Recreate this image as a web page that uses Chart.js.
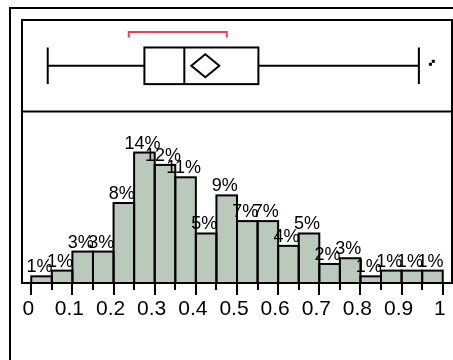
<!DOCTYPE html>
<html>
<head>
<meta charset="utf-8">
<script src="https://cdn.jsdelivr.net/npm/chart.js@4/dist/chart.umd.min.js"></script>
<style>
  html, body { margin: 0; padding: 0; background: #fff; overflow: hidden; }
  #wrap { position: relative; width: 453px; height: 360px; overflow: hidden; }
  #outer { position: absolute; left: 9px; top: 7px; width: 470px; height: 380px; border: 2px solid #000; box-sizing: border-box; }
  canvas { position: absolute; left: 0; top: 0; }
</style>
</head>
<body>
<div id="wrap">
  <div id="outer"></div>
  <canvas id="c" width="453" height="360"></canvas>
</div>
<script>
// Histogram bins (edges) and percentage of observations in each bin
const binEdges = [0, 0.05, 0.1, 0.15, 0.2, 0.25, 0.3, 0.35, 0.4, 0.45, 0.5,
                  0.55, 0.6, 0.65, 0.7, 0.75, 0.8, 0.85, 0.9, 0.95, 1];
const percents = [0.7, 1.3, 3.3, 3.3, 8.4, 13.7, 12.4, 11.1, 5.2, 9.2,
                  6.5, 6.5, 3.9, 5.2, 2.0, 2.6, 0.7, 1.3, 1.3, 1.3];

// Axis ticks
const tickValues = [0, 0.1, 0.2, 0.3, 0.4, 0.5, 0.6, 0.7, 0.8, 0.9, 1];
const tickLabels = ['0', '0.1', '0.2', '0.3', '0.4', '0.5', '0.6', '0.7', '0.8', '0.9', '1'];
const minorTickValues = [0.05, 0.15, 0.25, 0.35, 0.45, 0.55, 0.65, 0.75, 0.85, 0.95];

// Box plot summary
const whiskerLow = 0.04;
const q1 = 0.275;
const median = 0.372;
const mean = 0.423;
const q3 = 0.552;
const whiskerHigh = 0.942;
const outliers = [0.970, 0.977];
const shortestHalf = [0.237, 0.475];

const FONT = "'Liberation Sans', Arial, sans-serif";
const BAR_FILL = '#bac9bb';
const BRACKET_RED = '#e8405a';

const barData = percents.map((p, i) => ({ x: (binEdges[i] + binEdges[i + 1]) / 2, y: p }));

// Outline every bar and print its rounded percentage above it
const barDecor = {
  id: 'barDecor',
  afterDatasetsDraw(chart) {
    const ctx = chart.ctx;
    const meta = chart.getDatasetMeta(0);
    ctx.save();
    ctx.strokeStyle = '#000';
    ctx.lineWidth = 2;
    meta.data.forEach(el => {
      const p = el.getProps(['x', 'y', 'base', 'width'], true);
      ctx.strokeRect(p.x - p.width / 2, p.y, p.width, p.base - p.y);
    });
    ctx.fillStyle = '#000';
    ctx.font = '18px ' + FONT;
    ctx.textAlign = 'center';
    ctx.textBaseline = 'alphabetic';
    meta.data.forEach((el, i) => {
      const p = el.getProps(['x', 'y'], true);
      ctx.fillText(Math.round(percents[i]) + '%', p.x - 2, p.y - 4);
    });
    ctx.restore();
  }
};

// Panel frame, divider, minor ticks and the box plot in the upper panel
const panelDecor = {
  id: 'panelDecor',
  afterDraw(chart) {
    const ctx = chart.ctx;
    const { x, yb } = chart.scales;
    const a = chart.chartArea;
    const px = v => x.getPixelForValue(v);
    ctx.save();
    ctx.strokeStyle = '#000';
    ctx.lineWidth = 2;
    ctx.lineCap = 'butt';

    // frame + divider
    ctx.strokeRect(a.left, a.top, a.right - a.left, a.bottom - a.top);
    ctx.beginPath();
    ctx.moveTo(a.left, yb.bottom);
    ctx.lineTo(a.right, yb.bottom);
    ctx.stroke();

    // minor ticks
    ctx.beginPath();
    minorTickValues.forEach(v => {
      const xp = Math.round(px(v));
      ctx.moveTo(xp, a.bottom);
      ctx.lineTo(xp, a.bottom + 7);
    });
    ctx.stroke();

    // box plot
    const cy = yb.getPixelForValue(0.5);
    const bt = yb.getPixelForValue(0.7);
    const bb = yb.getPixelForValue(0.3);
    ctx.beginPath();
    ctx.moveTo(px(whiskerLow), cy); ctx.lineTo(px(q1), cy);
    ctx.moveTo(px(q3), cy); ctx.lineTo(px(whiskerHigh), cy);
    ctx.moveTo(px(whiskerLow), bt); ctx.lineTo(px(whiskerLow), bb);
    ctx.moveTo(px(whiskerHigh), bt); ctx.lineTo(px(whiskerHigh), bb);
    ctx.moveTo(px(median), bt); ctx.lineTo(px(median), bb);
    ctx.stroke();
    ctx.strokeRect(px(q1), bt, px(q3) - px(q1), bb - bt);

    // mean diamond
    const mx = px(mean);
    ctx.beginPath();
    ctx.moveTo(mx - 14, cy);
    ctx.lineTo(mx, cy - 11.5);
    ctx.lineTo(mx + 14, cy);
    ctx.lineTo(mx, cy + 11.5);
    ctx.closePath();
    ctx.stroke();

    // outliers
    ctx.fillStyle = '#000';
    outliers.forEach((v, i) => {
      const ox = px(v);
      const oy = cy - 1.5 - 3 * i;
      ctx.fillRect(ox - 1.5, oy - 1.5, 3, 3);
    });

    // shortest-half bracket
    const ly = yb.getPixelForValue(0.87);
    const ty = yb.getPixelForValue(0.81);
    ctx.strokeStyle = BRACKET_RED;
    ctx.lineWidth = 2;
    ctx.beginPath();
    ctx.moveTo(px(shortestHalf[0]), ty);
    ctx.lineTo(px(shortestHalf[0]), ly);
    ctx.lineTo(px(shortestHalf[1]), ly);
    ctx.lineTo(px(shortestHalf[1]), ty);
    ctx.stroke();
    ctx.restore();
  }
};

new Chart(document.getElementById('c'), {
  type: 'bar',
  data: {
    datasets: [{
      data: barData,
      xAxisID: 'x',
      yAxisID: 'y',
      backgroundColor: BAR_FILL,
      borderWidth: 0,
      barPercentage: 1,
      categoryPercentage: 1
    }]
  },
  options: {
    responsive: false,
    devicePixelRatio: 1,
    animation: false,
    events: [],
    layout: { padding: { left: 22, top: 20, right: 1, bottom: 0 } },
    plugins: { legend: { display: false }, tooltip: { enabled: false } },
    scales: {
      x: {
        type: 'linear',
        position: 'bottom',
        min: -0.0225,
        max: 1.0225,
        offset: false,
        afterBuildTicks: s => { s.ticks = tickValues.map(v => ({ value: v })); },
        afterFit: s => { s.height = 77; },
        grid: { display: true, offset: false, drawOnChartArea: false, drawTicks: true, tickLength: 12, color: '#000', lineWidth: 2 },
        border: { display: false },
        ticks: {
          autoSkip: false,
          maxRotation: 0,
          padding: 2,
          labelOffset: -3,
          color: '#000',
          font: { family: FONT, size: 21 },
          callback: (v, i) => tickLabels[i]
        }
      },
      y: {
        type: 'linear',
        position: 'left',
        display: false,
        min: 0,
        max: 18,
        stack: 'panels',
        stackWeight: 171.6,
        weight: 0
      },
      yb: {
        type: 'linear',
        position: 'left',
        display: false,
        min: 0,
        max: 1,
        stack: 'panels',
        stackWeight: 91.7,
        weight: 1
      }
    }
  },
  plugins: [barDecor, panelDecor]
});
</script>
</body>
</html>
